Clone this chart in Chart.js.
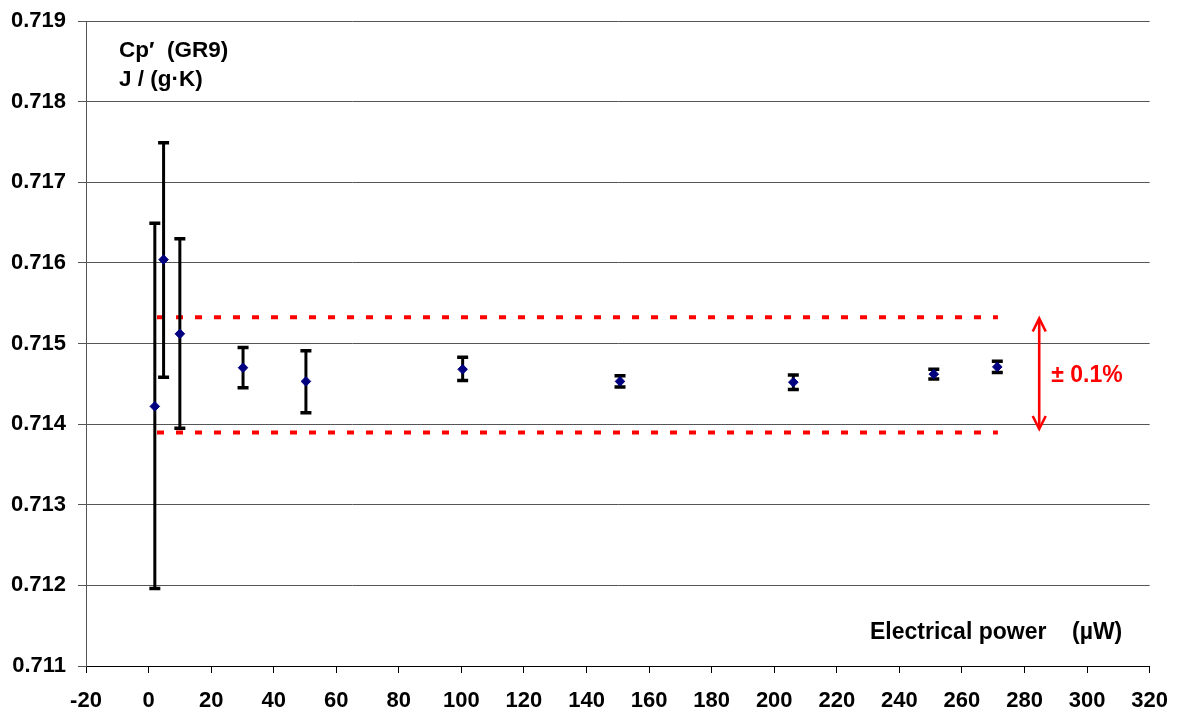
<!DOCTYPE html>
<html><head><meta charset="utf-8">
<script src="https://cdn.jsdelivr.net/npm/chart.js@4.4.1/dist/chart.umd.min.js"></script>
<style>html,body{margin:0;padding:0;background:#fff;overflow:hidden}#wrap{width:1178px;height:713px}</style>
</head><body><div id="wrap"><canvas id="c" width="1178" height="713"></canvas></div>
<script>
// ---- data ----
const powerUW  = [2.0, 4.8, 10.0, 30.2, 50.3, 100.4, 150.7, 206.1, 251.0, 271.3];
const cpValues = [0.71422, 0.71604, 0.71512, 0.71470, 0.71453, 0.71468, 0.71453, 0.71452, 0.71462, 0.71471];
const errHigh  = [0.71649, 0.71749, 0.71630, 0.71495, 0.71491, 0.71483, 0.71460, 0.71461, 0.71468, 0.71478];
const errLow   = [0.71196, 0.71458, 0.71395, 0.71445, 0.71414, 0.71454, 0.71446, 0.71443, 0.71456, 0.71464];
const bandX     = [2.7, 271.5];
const bandUpper = [0.715326, 0.715326];
const bandLower = [0.713895, 0.713895];
const arrowX = 284.7;
const arrowRange = [0.71394, 0.71531];
const xRange = [-20, 320];
const yRange = [0.711, 0.719];
const yLabel = ["Cp\u2032  (GR9)", "J / (g\u00B7K)"];
const xLabel = "Electrical power    (\u00B5W)";
const bandLabel = "\u00B1 0.1%";

const FONT = "'Liberation Sans', Arial, sans-serif";

const errorBars = {
  id: 'errorBars',
  beforeDatasetDraw(chart, args) {
    if (args.index !== 0) return;
    const {ctx, scales: {x, y}} = chart;
    ctx.save();
    ctx.strokeStyle = '#000'; ctx.lineCap = 'butt';
    powerUW.forEach((p, i) => {
      const px = x.getPixelForValue(p);
      const t = y.getPixelForValue(errHigh[i]);
      const b = y.getPixelForValue(errLow[i]);
      ctx.lineWidth = 3;
      ctx.beginPath();
      ctx.moveTo(px, t); ctx.lineTo(px, b);
      ctx.stroke();
      ctx.lineWidth = 3.5;
      ctx.beginPath();
      ctx.moveTo(px - 5.5, t); ctx.lineTo(px + 5.5, t);
      ctx.moveTo(px - 5.5, b); ctx.lineTo(px + 5.5, b);
      ctx.stroke();
    });
    ctx.restore();
  }
};

const annotations = {
  id: 'annotations',
  afterDraw(chart) {
    const {ctx, chartArea: ca, scales: {x, y}} = chart;
    ctx.save();
    // arrow
    const ax = x.getPixelForValue(arrowX);
    const at = y.getPixelForValue(arrowRange[1]);
    const ab = y.getPixelForValue(arrowRange[0]);
    ctx.strokeStyle = '#ff0000'; ctx.lineWidth = 2.6; ctx.lineCap = 'butt'; ctx.lineJoin = 'miter';
    ctx.beginPath(); ctx.moveTo(ax, at + 1); ctx.lineTo(ax, ab - 1); ctx.stroke();
    ctx.beginPath();
    ctx.moveTo(ax - 6.5, at + 13); ctx.lineTo(ax, at); ctx.lineTo(ax + 6.5, at + 13);
    ctx.moveTo(ax - 6.5, ab - 13); ctx.lineTo(ax, ab); ctx.lineTo(ax + 6.5, ab - 13);
    ctx.stroke();
    // band label
    ctx.fillStyle = '#ff0000';
    ctx.font = "bold 23px " + FONT;
    ctx.textAlign = 'left'; ctx.textBaseline = 'alphabetic';
    ctx.fillText(bandLabel, ax + 12, (at + ab) / 2 + 8);
    // y label
    ctx.fillStyle = '#000';
    ctx.font = "bold 22.5px " + FONT;
    ctx.fillText(yLabel[0], ca.left + 33, ca.top + 36);
    ctx.fillText(yLabel[1], ca.left + 33, ca.top + 65);
    // x label
    ctx.font = "bold 23px " + FONT;
    ctx.fillText(xLabel, 870, ca.bottom - 27);
    ctx.restore();
  }
};

new Chart(document.getElementById('c'), {
  type: 'scatter',
  data: {
    datasets: [
      {
        data: powerUW.map((p, i) => ({x: p, y: cpValues[i]})),
        pointStyle: 'rectRot', pointRadius: 4.8, pointBackgroundColor: '#000080',
        pointBorderColor: '#000080', pointBorderWidth: 1, showLine: false, order: 1
      },
      {
        data: bandX.map((p, i) => ({x: p, y: bandUpper[i]})),
        showLine: true, pointRadius: 0, borderColor: '#ff0000', borderWidth: 4,
        borderDash: [7, 12], borderCapStyle: 'butt', order: 2
      },
      {
        data: bandX.map((p, i) => ({x: p, y: bandLower[i]})),
        showLine: true, pointRadius: 0, borderColor: '#ff0000', borderWidth: 4,
        borderDash: [7, 12], borderCapStyle: 'butt', order: 2
      }
    ]
  },
  options: {
    responsive: false, animation: false, devicePixelRatio: 1,
    layout: {padding: {top: 21, right: 28, left: 0, bottom: 0}},
    plugins: {legend: {display: false}, tooltip: {enabled: false}},
    scales: {
      x: {
        type: 'linear', min: xRange[0], max: xRange[1],
        ticks: {stepSize: 20, color: '#000', font: {family: FONT, size: 22, weight: 'bold', lineHeight: 1.65}, padding: 10, maxRotation: 0, autoSkip: false},
        grid: {drawOnChartArea: false, drawTicks: true, tickLength: 7, color: '#000'},
        border: {color: '#000', width: 1},
        afterFit(s) { s.height = 47; }
      },
      y: {
        type: 'linear', min: yRange[0], max: yRange[1],
        ticks: {stepSize: 0.001, color: '#000', font: {family: FONT, size: 22, weight: 'bold', lineHeight: 0.7}, padding: 12,
          callback: v => v.toFixed(3)},
        grid: {color: '#555', tickLength: 8, lineWidth: 1},
        border: {color: '#555', width: 1},
        afterFit(s) { s.width = 86; }
      }
    }
  },
  plugins: [errorBars, annotations]
});
</script></body></html>
